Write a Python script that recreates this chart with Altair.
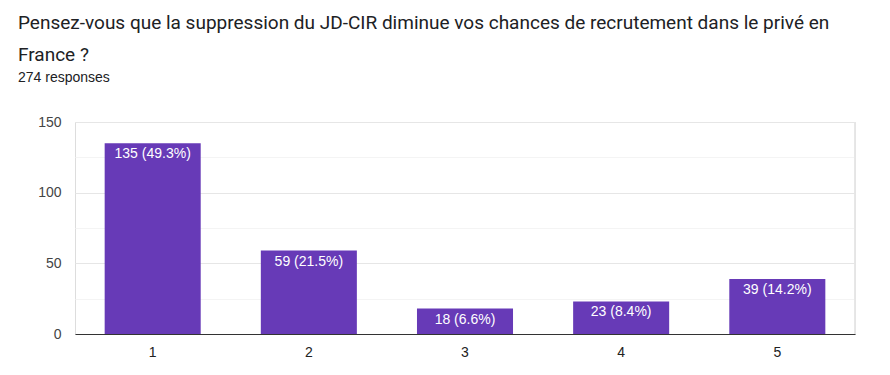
import altair as alt
import pandas as pd

categories = ["1", "2", "3", "4", "5"]
counts = [135, 59, 18, 23, 39]
percents = ["49.3%", "21.5%", "6.6%", "8.4%", "14.2%"]

title_lines = [
    "Pensez-vous que la suppression du JD-CIR diminue vos chances de recrutement dans le privé en",
    "France ?",
]
subtitle = "274 responses"
y_ticks = [0, 25, 50, 75, 100, 125, 150]

df = pd.DataFrame({"cat": categories, "count": counts, "pct": percents})
df["label"] = [f"{c} ({p})" for c, p in zip(counts, percents)]

TFONT = "Roboto"
FONT = "Liberation Sans"
PURPLE = "#673ab7"

base = alt.Chart(df).encode(
    x=alt.X(
        "cat:N",
        sort=categories,
        title=None,
        scale=alt.Scale(paddingInner=0.385, paddingOuter=0.19),
        axis=alt.Axis(
            labelAngle=0,
            ticks=False,
            domain=True,
            domainColor="#333333",
            domainWidth=1,
            labelPadding=11,
            labelFontSize=14,
            labelColor="#222222",
            labelFont=FONT,
            grid=False,
        ),
    ),
    y=alt.Y(
        "count:Q",
        title=None,
        scale=alt.Scale(domain=[0, 150], nice=False),
        axis=alt.Axis(
            values=y_ticks,
            labelExpr="datum.value % 50 === 0 ? datum.label : ''",
            ticks=False,
            domain=False,
            labelPadding=14,
            labelFontSize=14,
            labelColor="#444444",
            labelFont=FONT,
            grid=True,
            gridColor={
                "condition": {"test": "datum.value % 50 === 0", "value": "#e6e6e6"},
                "value": "#f4f4f4",
            },
        ),
    ),
)

bars = base.mark_bar(color=PURPLE)
labels = base.mark_text(
    baseline="top", dy=4, color="white", fontSize=14, font=FONT
).encode(text="label:N")

right_border = alt.Chart(df).mark_rule(color="#e6e6e6").encode(
    x=alt.value(780), y=alt.value(0), y2=alt.value(212)
)

chart = (
    alt.layer(bars, labels, right_border)
    .properties(
        width=780,
        height=212,
        autosize=alt.AutoSizeParams(type="none"),
        padding={"left": 67, "top": 114, "right": 20, "bottom": 40},
        title=alt.TitleParams(
            text=title_lines,
            subtitle=subtitle,
            anchor="start",
            frame="group",
            dx=-57,
            offset=30,
            font=TFONT,
            fontSize=19,
            fontWeight="normal",
            color="#202124",
            lineHeight=32,
            subtitleFont=FONT,
            subtitleFontSize=14,
            subtitleColor="#202124",
            subtitlePadding=6,
        ),
    )
    .configure_view(stroke=None)
    .configure(background="white")
)

chart.save("out.html", embed_options={"renderer": "svg", "actions": False})
